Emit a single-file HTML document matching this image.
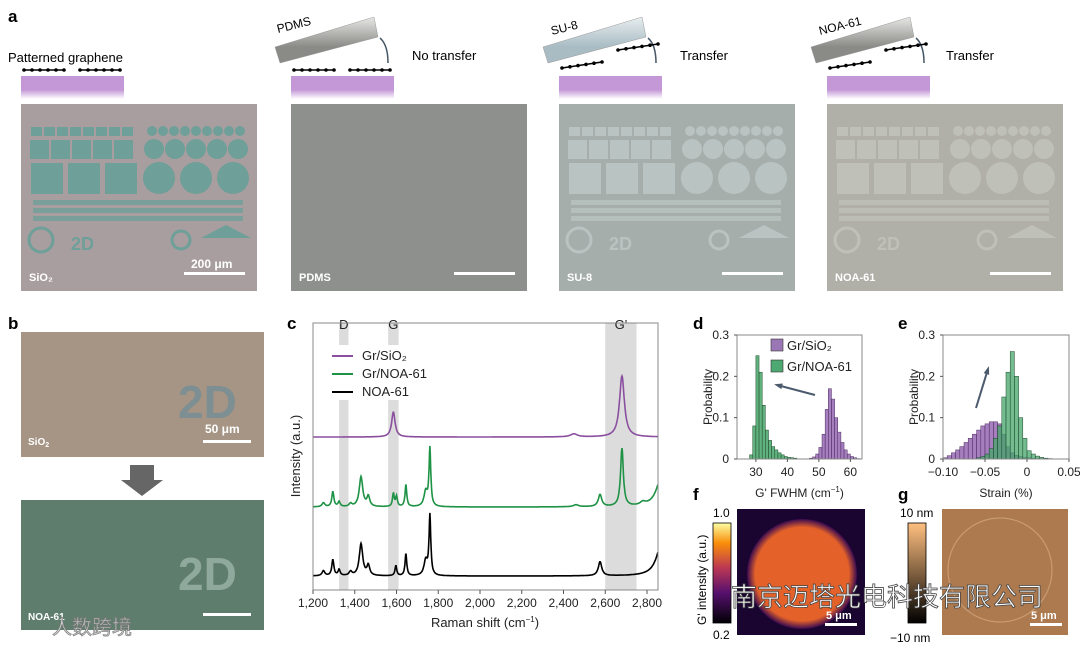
<!DOCTYPE html>
<html><head><meta charset="utf-8"><style>
body{margin:0;background:#fff}
svg{display:block;font-family:"Liberation Sans","Noto Sans CJK SC",sans-serif}
</style></head><body>
<svg id="fig" width="1080" height="646" viewBox="0 0 1080 646" xmlns="http://www.w3.org/2000/svg">
<defs>
<linearGradient id="sub" x1="0" y1="0" x2="0" y2="1"><stop offset="0.6" stop-color="#c497d6"/><stop offset="1" stop-color="#fff"/></linearGradient>
<linearGradient id="stampG" x1="0" y1="0" x2="0" y2="1"><stop offset="0" stop-color="#e8e8e6"/><stop offset="0.65" stop-color="#8a8a86"/></linearGradient>
<linearGradient id="stampB" x1="0" y1="0" x2="0" y2="1"><stop offset="0" stop-color="#e8eef0"/><stop offset="0.65" stop-color="#a9bcc4"/></linearGradient>
<linearGradient id="inferno" x1="0" y1="1" x2="0" y2="0"><stop offset="0" stop-color="#000004"/><stop offset="0.3" stop-color="#56106e"/><stop offset="0.55" stop-color="#bb3754"/><stop offset="0.8" stop-color="#f98e09"/><stop offset="1" stop-color="#fcffa4"/></linearGradient>
<linearGradient id="copper" x1="0" y1="1" x2="0" y2="0"><stop offset="0" stop-color="#000"/><stop offset="1" stop-color="#ffc080"/></linearGradient>
<radialGradient id="spot" cx="0.5" cy="0.5" r="0.5"><stop offset="0.85" stop-color="#e4622a"/><stop offset="1" stop-color="#3a0a50"/></radialGradient>
</defs>
<g id="panelA">
<text x="8" y="22" font-size="17" font-weight="bold">a</text>
<text x="8" y="62" font-size="13">Patterned graphene</text>
<text x="278" y="33" font-size="12" transform="rotate(-14 278 33)">PDMS</text>
<text x="412" y="60" font-size="13">No transfer</text>
<text x="552" y="35" font-size="12" transform="rotate(-14 552 35)">SU-8</text>
<text x="680" y="60" font-size="13">Transfer</text>
<text x="820" y="35" font-size="12" transform="rotate(-14 820 35)">NOA-61</text>
<text x="946" y="60" font-size="13">Transfer</text>
</g>
<g id="panelB">
<text x="8" y="329" font-size="17" font-weight="bold">b</text>
<rect x="21" y="332" width="243" height="125" fill="#a69585"/>
<rect x="21" y="500" width="243" height="130" fill="#5f7d6c"/>
<text x="178" y="418" font-size="46" font-weight="bold" fill="#7d8f93">2D</text>
<text x="178" y="590" font-size="46" font-weight="bold" fill="#8fa99c">2D</text>
<polygon points="130,465 154,465 154,480 163,480 142,496 121,480 130,480" fill="#666"/>
<text x="28" y="445" font-size="10" font-weight="bold" fill="#fff">SiO<tspan font-size="7" dy="2">2</tspan></text>
<text x="205" y="433" font-size="12" font-weight="bold" fill="#fff">50 μm</text>
<rect x="203" y="440" width="48" height="3" fill="#fff"/>
<rect x="203" y="613" width="48" height="3" fill="#fff"/>
<text x="28" y="620" font-size="10" font-weight="bold" fill="#fff">NOA-61</text>
<text x="52" y="634" font-size="20" fill="#ddd" stroke="#777" stroke-width="0.8" opacity="0.9">人数跨境</text>
</g>
<g id="panelC">
<text x="287" y="329" font-size="17" font-weight="bold">c</text>
</g>
<g id="panelDE">
<text x="693" y="329" font-size="17" font-weight="bold">d</text>
<text x="898" y="329" font-size="17" font-weight="bold">e</text>
</g>
<g id="panelFG">
<text x="693" y="500" font-size="17" font-weight="bold">f</text>
<text x="898" y="500" font-size="17" font-weight="bold">g</text>
<rect x="713" y="523" width="18" height="100" fill="url(#inferno)" stroke="#000" stroke-width="0.8"/>
<text x="713" y="517" font-size="12">1.0</text>
<text x="713" y="639" font-size="12">0.2</text>
<text transform="translate(706 625) rotate(-90)" font-size="12">G' intensity (a.u.)</text>
<rect x="737" y="509" width="128" height="126" fill="#1a0530"/>
<circle cx="802" cy="574" r="55" fill="url(#spot)"/>
<rect x="825" y="623" width="32" height="3" fill="#fff"/>
<text x="826" y="619" font-size="11" font-weight="bold" fill="#fff">5 μm</text>
<rect x="908" y="523" width="18" height="100" fill="url(#copper)" stroke="#000" stroke-width="0.8"/>
<text x="900" y="517" font-size="12">10 nm</text>
<text x="890" y="642" font-size="12">−10 nm</text>
<rect x="942" y="509" width="126" height="126" fill="#ad7a4f"/>
<circle cx="1000" cy="570" r="52" fill="none" stroke="#c99a70" stroke-width="1.2"/>
<rect x="1030" y="623" width="32" height="3" fill="#fff"/>
<text x="1031" y="619" font-size="11" font-weight="bold" fill="#fff">5 μm</text>
<text x="731" y="606" font-size="26" fill="#fff" stroke="#444" stroke-width="0.8">南京迈塔光电科技有限公司</text>
</g>
</svg>
<script>
const NS="http://www.w3.org/2000/svg";
function mk(parent,tag,attrs,txt){const e=document.createElementNS(NS,tag);for(const k in attrs)e.setAttribute(k,attrs[k]);if(txt!=null)e.textContent=txt;parent.appendChild(e);return e;}

// ===== Panel a: substrates, stamps, micrographs =====
const aX=[21,291,559,827];
const imgColors=["#a89ea0","#8e908d","#a5aeab","#b0afa8"];
const imgNames=["sio2","pdms","su8","noa61"];
const tags=["SiO₂","PDMS","SU-8","NOA-61"];
const patColors=["#6e9f98",null,"#b9c3c1","#bfc0b8"];
const pa=document.getElementById('panelA');
for(let i=0;i<4;i++){
  const x=aX[i];
  let e=mk(pa,'rect',{x:x,y:76,width:103,height:23,fill:'url(#sub)'});
  
  
  if(i>0){
    const s=mk(pa,'polygon',{points:`${x-16},47 ${x+83},17 ${x+87},37 ${x-11},63`,fill:i==2?'url(#stampB)':'url(#stampG)',stroke:'#999','stroke-width':0.5});
    
    
    const ar=mk(pa,'path',{d:`M${x+97},63 Q${x+97},45 ${x+89},38`,fill:'none',stroke:'#445566','stroke-width':1.5});
    
    
  }
  for(let g=0;g<2;g++){
    const gx=x+3+g*56, gy=(i>=2)?(g==0?68:50):70;
    const ln=mk(pa,'line',{x1:gx,y1:gy,x2:gx+40,y2:(i>=2)?gy-6:gy,stroke:'#000','stroke-width':1.5});
    
    
    for(let d=0;d<6;d++){
      const c=mk(pa,'circle',{cx:gx+d*8,cy:(i>=2)?gy-d*1.2:gy,r:1.8,fill:'#000'});
      
      
    }
  }
  const im=mk(pa,'rect',{x:x,y:104,width:236,height:187,fill:imgColors[i]});
  
  
  if(patColors[i]){
    const pc=patColors[i];
    for(let k=0;k<5;k++){const r=mk(pa,'rect',{x:x+9+k*21,y:140,width:19,height:19,fill:pc});}
    for(let k=0;k<3;k++){const r=mk(pa,'rect',{x:x+10+k*37,y:163,width:32,height:31,fill:pc});}
    for(let k=0;k<8;k++){const r=mk(pa,'rect',{x:x+10+k*13,y:127,width:11,height:9,fill:pc});}
    for(let k=0;k<5;k++){const c=mk(pa,'circle',{cx:x+133+k*21,cy:149,r:10,fill:pc});}
    for(let k=0;k<3;k++){const c=mk(pa,'circle',{cx:x+138+k*37,cy:178,r:16,fill:pc});}
    for(let k=0;k<9;k++){const c=mk(pa,'circle',{cx:x+131+k*11,cy:131,r:5,fill:pc});}
    for(let k=0;k<3;k++){const r=mk(pa,'rect',{x:x+12,y:200+k*8,width:210,height:5,fill:pc,opacity:0.8});}
    const t=mk(pa,'text',{x:x+50,y:250,'font-size':18,'font-weight':'bold',fill:pc},'2D');
    const p=mk(pa,'polygon',{points:`${x+180},238 ${x+205},225 ${x+230},238`,fill:pc});
    const c2=mk(pa,'circle',{cx:x+160,cy:240,r:9,fill:'none',stroke:pc,'stroke-width':3});
    const c3=mk(pa,'circle',{cx:x+20,cy:240,r:12,fill:'none',stroke:pc,'stroke-width':3});
  }
  const tg=mk(pa,'text',{x:x+8,y:281,'font-size':11,'font-weight':'bold',fill:'#fff'},tags[i]);
  
  
  const sb=mk(pa,'rect',{x:x+163,y:272,width:61,height:3,fill:'#fff'});
  
  
}
{const t=mk(pa,'text',{x:191,y:268,'font-size':12,'font-weight':'bold',fill:'#fff'},'200 μm');}

// ===== Panel c: Raman spectra =====
const ramanXTicks=[1200,1400,1600,1800,2000,2200,2400,2600,2800];
const ramanTickLabels=["1,200","1,400","1,600","1,800","2,000","2,200","2,400","2,600","2,800"];
const seriesNames=["Gr/SiO₂","Gr/NOA-61","NOA-61"];
const seriesOffsets=[153,83,14];
const sio2PeakPos=[1585,2450,2680];
const sio2PeakHeight=[25,3,61];
const sio2PeakWidth=[10,20,14];
const grNoaPeakPos=[1250,1295,1325,1380,1430,1465,1585,1600,1645,1740,1760,2460,2575,2680,2780,2870];
const grNoaPeakHeight=[4,15,5,3,30,10,13,10,22,15,58,2,12,58,3,30];
const grNoaPeakWidth=[8,6,6,8,10,8,5,5,5,10,5,15,10,8,15,30];
const noaPeakPos=[1250,1295,1325,1380,1430,1465,1597,1645,1740,1760,2575,2870];
const noaPeakHeight=[5,16,6,4,32,10,10,22,15,60,14,32];
const noaPeakWidth=[8,6,6,8,10,8,5,5,10,5,10,30];
const bands=[[1325,1370,"D"],[1560,1610,"G"],[2600,2750,"G'"]];

const pc=document.getElementById('panelC');
const cL=313,cR=658,cT=323,cB=590;
const cx=v=>647+(v-2800)*(334/1600);
const cy=v=>cB-v;
bands.forEach(b=>{
  const r=mk(pc,'rect',{x:cx(b[0]),y:cT,width:cx(b[1])-cx(b[0]),height:cB-cT,fill:'#dcdcdc'});
  
  
  const t=mk(pc,'text',{x:(cx(b[0])+cx(b[1]))/2,y:329,'font-size':13,'text-anchor':'middle',fill:'#222'},b[2]);
  
  
});
{const r=mk(pc,'rect',{x:327,y:345,width:120,height:55,fill:'#fff'});}
const specCols=["#8b4fa0","#1e9245","#000"];
const specDefs=[[sio2PeakPos,sio2PeakHeight,sio2PeakWidth],[grNoaPeakPos,grNoaPeakHeight,grNoaPeakWidth],[noaPeakPos,noaPeakHeight,noaPeakWidth]];
const specNames=["spectrum-gr-sio2","spectrum-gr-noa61","spectrum-noa61"];
specDefs.forEach((sd,si)=>{
  let d="";
  for(let v=1200;v<=2852;v+=2){
    let s=seriesOffsets[si];
    for(let k=0;k<sd[0].length;k++){const g=(v-sd[0][k])/sd[2][k];s+=sd[1][k]/(1+g*g);}
    d+=(v==1200?"M":"L")+cx(v).toFixed(1)+","+cy(s).toFixed(1);
  }
  const p=mk(pc,'path',{d:d,fill:'none',stroke:specCols[si],'stroke-width':1.6});
  
  
  const ly=356+si*18;
  const ll=mk(pc,'line',{x1:332,y1:ly,x2:353,y2:ly,stroke:specCols[si],'stroke-width':2});
  
  
  const lt=mk(pc,'text',{x:362,y:ly+4,'font-size':13,fill:'#222'},seriesNames[si]);
  
  
});
{const f=mk(pc,'rect',{x:cL,y:cT,width:cR-cL,height:cB-cT,fill:'none',stroke:'#888','stroke-width':1});}
ramanXTicks.forEach((v,i)=>{
  const t=mk(pc,'line',{x1:cx(v),y1:cB,x2:cx(v),y2:cB+4,stroke:'#555'});
  
  
  const l=mk(pc,'text',{x:cx(v),y:cB+17,'font-size':12,'text-anchor':'middle',fill:'#222'},ramanTickLabels[i]);
  
  
});
{const t=mk(pc,'text',{x:485,y:627,'font-size':13,'text-anchor':'middle',fill:'#222'});t.innerHTML='Raman shift (cm<tspan font-size="8" dy="-5">−1</tspan><tspan dy="5">)</tspan>';}
{const t=mk(pc,'text',{transform:'translate(300 456) rotate(-90)','font-size':13,'text-anchor':'middle',fill:'#222'},'Intensity (a.u.)');}

// ===== Panels d, e: histograms =====
const fwhmBinStarts=[28,29,30,31,32,33,34,35,36,37,38,39,40,41,42,43,44,45,46,47,48,49,50,51,52,53,54,55,56,57,58,59,60,61,62];
const fwhmGrNoa=[0.01,0.08,0.25,0.21,0.13,0.07,0.045,0.03,0.022,0.015,0.01,0.006,0.004,0.003,0.002,0,0,0,0,0,0,0,0,0,0,0,0,0,0,0,0,0,0,0,0];
const fwhmGrSio2=[0,0,0,0,0,0,0,0,0,0,0,0,0,0,0,0,0,0,0,0.002,0.005,0.012,0.028,0.06,0.12,0.17,0.145,0.1,0.065,0.04,0.022,0.012,0.006,0.003,0.001];
const strainBinStarts=[-0.100,-0.095,-0.090,-0.085,-0.080,-0.075,-0.070,-0.065,-0.060,-0.055,-0.050,-0.045,-0.040,-0.035,-0.030,-0.025,-0.020,-0.015,-0.010,-0.005,0.000,0.005,0.010,0.015,0.020,0.025];
const strainGrSio2=[0.003,0.008,0.015,0.022,0.03,0.04,0.05,0.06,0.07,0.08,0.085,0.09,0.09,0.085,0.06,0.03,0.015,0.009,0.006,0.004,0.003,0.002,0.001,0.001,0,0];
const strainGrNoa=[0,0,0,0,0,0,0,0,0.003,0.006,0.012,0.025,0.05,0.08,0.15,0.21,0.26,0.2,0.1,0.05,0.02,0.012,0.007,0.004,0.002,0.001];
const probTicks=[0,0.1,0.2,0.3];
const probTickLabels=["0","0.1","0.2","0.3"];
const fwhmTicks=[30,40,50,60];
const fwhmTickLabels=["30","40","50","60"];
const strainTicks=[-0.10,-0.05,0,0.05];
const strainTickLabels=["−0.10","−0.05","0","0.05"];

const pde=document.getElementById('panelDE');
function hist(L,R,T,B,xmin,xmax,binW,starts,sets,cols,strokes,names,xt,xtl,xtitle,key){
  const sx=v=>L+(v-xmin)/(xmax-xmin)*(R-L);
  const sy=v=>B-v/0.3*(B-T);
  sets.forEach((vals,si)=>{
    vals.forEach((v,i)=>{
      if(v<=0)return;
      const r=mk(pde,'rect',{x:sx(starts[i]),y:sy(v),width:sx(starts[i]+binW)-sx(starts[i]),height:B-sy(v),fill:cols[si],stroke:strokes[si],'stroke-width':0.5});
      
      
    });
  });
  const f=mk(pde,'path',{d:`M${L},${T}V${B}H${R}V${T}H${L}`,fill:'none',stroke:'#888'});
  
  
  probTicks.forEach((v,i)=>{
    const t=mk(pde,'line',{x1:L-3,y1:sy(v),x2:L,y2:sy(v),stroke:'#555'});
    
    
    const l=mk(pde,'text',{x:L-8,y:sy(v)+4,'font-size':12,'text-anchor':'end',fill:'#222'},probTickLabels[i]);
    
    
  });
  xt.forEach((v,i)=>{
    const t=mk(pde,'line',{x1:sx(v),y1:B,x2:sx(v),y2:B+3,stroke:'#555'});
    
    
    const l=mk(pde,'text',{x:sx(v),y:B+17,'font-size':12,'text-anchor':'middle',fill:'#222'},xtl[i]);
    
    
  });
  const yt=mk(pde,'text',{transform:`translate(${L-25} ${(T+B)/2}) rotate(-90)`,'font-size':12,'text-anchor':'middle',fill:'#222'},'Probability');
  
  
  const xtt=mk(pde,'text',{x:(L+R)/2,y:B+38,'font-size':12,'text-anchor':'middle',fill:'#222'});
  xtt.innerHTML=xtitle;
  
  
}
hist(737,862,335,459,24,63.7,1,fwhmBinStarts,[fwhmGrSio2,fwhmGrNoa],['rgba(150,105,180,0.85)','rgba(70,165,105,0.85)'],['#4b2a5e','#1d4a2c'],['gr-sio2-fwhm','gr-noa61-fwhm'],fwhmTicks,fwhmTickLabels,"G' FWHM (cm<tspan font-size='8' dy='-5'>−1</tspan><tspan dy='5'>)</tspan>",'d');
hist(943,1069,335,459,-0.1,0.05,0.005,strainBinStarts,[strainGrSio2,strainGrNoa],['rgba(150,105,180,0.85)','rgba(70,165,105,0.75)'],['#4b2a5e','#1d4a2c'],['gr-sio2-strain','gr-noa61-strain'],strainTicks,strainTickLabels,"Strain (%)",'e');
[["#9b76b5","Gr/SiO₂",345],["#4ea872","Gr/NOA-61",366]].forEach((l,i)=>{
  const r=mk(pde,'rect',{x:771,y:l[2]-6,width:12,height:12,fill:l[0],stroke:'#333','stroke-width':0.6});
  
  
  const t=mk(pde,'text',{x:787,y:l[2]+5,'font-size':13,fill:'#222'},l[1]);
  
  
});
[[815,395,777,385],[976,408,988,369]].forEach((a,i)=>{
  const ln=mk(pde,'line',{x1:a[0],y1:a[1],x2:a[2],y2:a[3],stroke:'#4c5a6e','stroke-width':2});
  
  
  const ang=Math.atan2(a[3]-a[1],a[2]-a[0]);
  const hx=a[2],hy=a[3],s=6;
  const p=mk(pde,'polygon',{points:`${hx+Math.cos(ang)*3},${hy+Math.sin(ang)*3} ${hx-Math.cos(ang-0.5)*s},${hy-Math.sin(ang-0.5)*s} ${hx-Math.cos(ang+0.5)*s},${hy-Math.sin(ang+0.5)*s}`,fill:'#4c5a6e'});
  
  
});
</script>
</body></html>
